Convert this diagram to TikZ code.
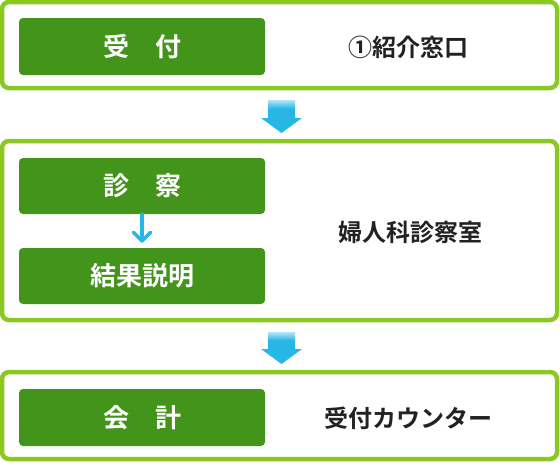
\documentclass[tikz,border=0pt]{standalone}
\usepackage{fontspec}
\setmainfont{Noto Sans CJK JP}[BoldFont={Noto Sans CJK JP Bold}]
\usetikzlibrary{calc}
\definecolor{lime}{HTML}{8CC823}
\definecolor{boxgreen}{HTML}{42941A}
\definecolor{arrowblue}{HTML}{27B7E6}
\definecolor{labelgray}{HTML}{222222}
\pgfdeclareverticalshading{arrowfade}{100bp}{color(0bp)=(arrowblue); color(25bp)=(arrowblue); color(62bp)=(arrowblue); color(75bp)=(arrowblue!35!white); color(100bp)=(arrowblue!35!white)}
\tikzset{
  outerbox/.style={draw=lime, line width=4.5pt, rounded corners=7pt, fill=white, minimum width=555pt, inner sep=0pt},
  stepbox/.style={fill=boxgreen, rounded corners=4pt, minimum width=246pt, text=white, font=\bfseries\fontsize{26pt}{30pt}\selectfont, inner sep=0pt},
  label/.style={text=labelgray, font=\bfseries\fontsize{24pt}{28pt}\selectfont, inner sep=0pt},
  bigarrow/.style={shading=arrowfade},
  smallarrow/.style={draw=arrowblue, line width=3.6pt, line cap=round, line join=round}
}
\begin{document}
\begin{tikzpicture}[x=1pt, y=-1pt]
\useasboundingbox (0,0) rectangle (560,463);
% outer frames
\node[outerbox, minimum height=86pt] (o1) at (279.5,45) {};
\node[outerbox, minimum height=179pt] (o2) at (279.5,230.5) {};
\node[outerbox, minimum height=87pt] (o3) at (279.5,415.5) {};
% step boxes
\node[stepbox, minimum height=57pt] (i1) at (142,46.5) {受　付};
\node[stepbox, minimum height=56pt] (i2) at (142,186) {診　察};
\node[stepbox, minimum height=56pt] (i3) at (142,276) {結果説明};
\node[stepbox, minimum height=57pt] (i4) at (142,417.5) {会　計};
% labels
\node[label] (l1) at (408,47) {①紹介窓口};
\node[label] (l2) at (410,232.5) {婦人科診察室};
\node[label] (l3) at (408,418) {受付カウンター};
% big arrows
\coordinate (a1) at (281.5,100);
\coordinate (a2) at (281.5,332);
\path[bigarrow] ($(a1)+(-13.5,0)$) -- ++(27,0) -- ++(0,18) -- ++(7,0) -- ++(-20.5,15) -- ++(-20.5,-15) -- ++(7,0) -- cycle;
\path[bigarrow] ($(a2)+(-13.5,0)$) -- ++(27,0) -- ++(0,17) -- ++(7,0) -- ++(-20.5,15) -- ++(-20.5,-15) -- ++(7,0) -- cycle;
% small arrow
\coordinate (tip) at ([yshift=7pt]i3.north);
\draw[smallarrow] (i2.south) -- (tip);
\draw[smallarrow] ($(tip)+(-8.5,-8.5)$) -- (tip) -- ($(tip)+(8.5,-8.5)$);
\end{tikzpicture}
\end{document}
